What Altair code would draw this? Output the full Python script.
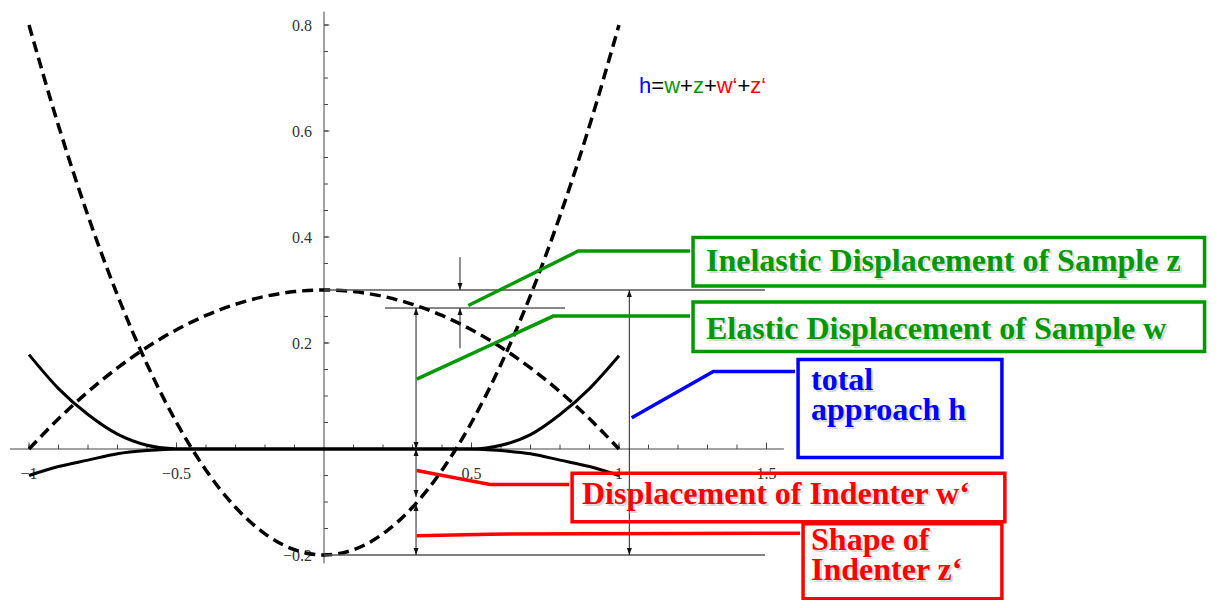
import altair as alt
import pandas as pd

# ---------------- curve data ----------------
xs = [-1.0, -0.9, -0.8, -0.7, -0.6, -0.5, -0.4, -0.3, -0.2, -0.1, 0.0,
      0.1, 0.2, 0.3, 0.4, 0.5, 0.6, 0.7, 0.8, 0.9, 1.0]
indenter_shape = [0.80, 0.61, 0.44, 0.29, 0.16, 0.05, -0.04, -0.11, -0.16, -0.19, -0.20,
                  -0.19, -0.16, -0.11, -0.04, 0.05, 0.16, 0.29, 0.44, 0.61, 0.80]
sample_shape = [0.0, 0.057, 0.108, 0.153, 0.192, 0.225, 0.252, 0.273, 0.288, 0.297, 0.300,
                0.297, 0.288, 0.273, 0.252, 0.225, 0.192, 0.153, 0.108, 0.057, 0.0]
upper_solid = [0.178, 0.114, 0.065, 0.028, 0.007, 0.0, 0.0, 0.0, 0.0, 0.0, 0.0,
               0.0, 0.0, 0.0, 0.0, 0.0, 0.007, 0.027, 0.065, 0.114, 0.176]
lower_solid = [-0.050, -0.033, -0.021, -0.009, -0.003, 0.0, 0.0, 0.0, 0.0, 0.0, 0.0,
               0.0, 0.0, 0.0, 0.0, 0.0, -0.003, -0.009, -0.021, -0.033, -0.050]

# ---------------- axes ----------------
x_ticks = [-1.0, -0.9, -0.8, -0.7, -0.6, -0.5, -0.4, -0.3, -0.2, -0.1,
           0.1, 0.2, 0.3, 0.4, 0.5, 0.6, 0.7, 0.8, 0.9, 1.0, 1.1, 1.2, 1.3, 1.4, 1.5]
x_major = [-1.0, -0.5, 0.5, 1.0, 1.5]
x_labels = ["\u22121", "\u22120.5", "0.5", "1", "1.5"]
y_ticks = [-0.2, -0.15, -0.1, -0.05, 0.05, 0.1, 0.15, 0.2, 0.25, 0.3, 0.35,
           0.4, 0.45, 0.5, 0.55, 0.6, 0.65, 0.7, 0.75, 0.8]
y_major = [-0.2, 0.2, 0.4, 0.6, 0.8]
y_labels = ["\u22120.2", "0.2", "0.4", "0.6", "0.8"]
x_axis_span = [-1.064, 1.559]
y_axis_span = [-0.216, 0.825]

# ---------------- annotations (data coordinates) ----------------
GREEN, BLUE, RED, BLACK = "#009a00", "#0000ff", "#ff0000", "#000000"

hline_y = [0.30, 0.266, -0.20]
hline_x0 = [0.0, 0.207, 0.0]
hline_x1 = [1.495, 0.817, 1.495]

arrow_x = [0.312, 0.312, 0.312, 1.035, 0.461, 0.461]
arrow_top = [0.266, 0.0, -0.1037, 0.30, 0.362, 0.266]
arrow_bottom = [0.0, -0.0907, -0.20, -0.20, 0.30, 0.190]
head_up_x = [0.312, 0.312, 0.312, 1.035, 0.461]
head_up_y = [0.266, 0.0, -0.1037, 0.30, 0.266]
head_down_x = [0.312, 0.312, 0.312, 1.035, 0.461]
head_down_y = [0.0, -0.0907, -0.20, -0.20, 0.30]

connectors = {
    "inelastic": ([0.4892, 0.8620, 1.2407], [0.2707, 0.3735, 0.3735], GREEN),
    "elastic": ([0.3142, 0.7773, 1.2407], [0.1318, 0.2508, 0.2508], GREEN),
    "total": ([1.0431, 1.3197, 1.5966], [0.0589, 0.1462, 0.1462], BLUE),
    "indenter_disp": ([0.3142, 0.5627, 0.8305], [-0.0407, -0.0669, -0.0669], RED),
    "indenter_shape": ([0.3142, 0.5627, 1.6136], [-0.1636, -0.1607, -0.1589], RED),
}

box_x0 = [1.251, 1.251, 1.607, 0.841, 1.624]
box_x1 = [2.985, 2.985, 2.298, 2.308, 2.298]
box_y0 = [0.399, 0.2776, 0.169, -0.0458, -0.1411]
box_y1 = [0.3075, 0.1841, -0.0159, -0.1374, -0.2825]
box_color = [GREEN, GREEN, BLUE, RED, RED]

label_text = ["Inelastic Displacement of Sample z", "Elastic Displacement of Sample w",
              "total", "approach h", "Displacement of Indenter w\u2018",
              "Shape of", "Indenter z\u2018"]
label_x = [1.295, 1.295, 1.651, 1.651, 0.8746, 1.651, 1.651]
label_y = [0.3355, 0.2084, 0.1112, 0.0551, -0.1037, -0.1897, -0.2480]
label_color = [GREEN, GREEN, BLUE, BLUE, RED, RED, RED]

formula_parts = ["h", "=", "w", "+", "z", "+", "w\u2018", "+", "z\u2018"]
formula_colors = [BLUE, BLACK, GREEN, BLACK, GREEN, BLACK, RED, BLACK, RED]
formula_x = 1.068
formula_y = 0.672

# ---------------- scales ----------------
XS = alt.Scale(domain=[-1.0712, 2.9966], nice=False, zero=False)
YS = alt.Scale(domain=[-0.2849, 0.8321], nice=False, zero=False)


def X(f):
    return alt.X(f, type="quantitative", scale=XS, axis=None)


def Y(f):
    return alt.Y(f, type="quantitative", scale=YS, axis=None)


AXC = "#444444"

# axis lines
axis_df = pd.DataFrame({"x0": [x_axis_span[0], 0.0], "x1": [x_axis_span[1], 0.0],
                        "y0": [0.0, y_axis_span[0]], "y1": [0.0, y_axis_span[1]]})
axis_lines = alt.Chart(axis_df).mark_rule(color=AXC, strokeWidth=1).encode(
    x=X("x0"), x2="x1", y=Y("y0"), y2="y1")

xt_df = pd.DataFrame({"x": x_ticks, "y": [0.0] * len(x_ticks)})
xt = alt.Chart(xt_df).mark_point(shape="M0,0L0,-2", size=20, filled=False, opacity=1,
                                 color=AXC, strokeWidth=1).encode(x=X("x"), y=Y("y"))
xM_df = pd.DataFrame({"x": x_major, "y": [0.0] * len(x_major), "t": x_labels})
xM = alt.Chart(xM_df).mark_point(shape="M0,0L0,-2", size=42, filled=False, opacity=1,
                                 color=AXC, strokeWidth=1).encode(x=X("x"), y=Y("y"))
xL = alt.Chart(xM_df).mark_text(font="Liberation Serif", fontSize=16, color="#333333",
                                align="center", baseline="alphabetic", dy=30).encode(
    x=X("x"), y=Y("y"), text="t:N")

yt_df = pd.DataFrame({"y": y_ticks, "x": [0.0] * len(y_ticks)})
yt = alt.Chart(yt_df).mark_point(shape="M0,0L2,0", size=16, filled=False, opacity=1,
                                 color=AXC, strokeWidth=1).encode(x=X("x"), y=Y("y"))
yM_df = pd.DataFrame({"y": y_major, "x": [0.0] * len(y_major), "t": y_labels})
yM = alt.Chart(yM_df).mark_point(shape="M0,0L2,0", size=30, filled=False, opacity=1,
                                 color=AXC, strokeWidth=1).encode(x=X("x"), y=Y("y"))
yL = alt.Chart(yM_df).mark_text(font="Liberation Serif", fontSize=16, color="#333333",
                                align="right", baseline="alphabetic", dx=-12, dy=6).encode(
    x=X("x"), y=Y("y"), text="t:N")

# curves
dash_df = pd.DataFrame({"x": xs * 2, "y": indenter_shape + sample_shape,
                        "c": ["indenter"] * len(xs) + ["sample"] * len(xs)})
solid_df = pd.DataFrame({"x": xs * 2, "y": upper_solid + lower_solid,
                         "c": ["upper"] * len(xs) + ["lower"] * len(xs)})
dashed = alt.Chart(dash_df).mark_line(color="black", strokeWidth=3.5, strokeDash=[11, 6],
                                      interpolate="monotone").encode(
    x=X("x"), y=Y("y"), detail="c:N")
solid = alt.Chart(solid_df).mark_line(color="black", strokeWidth=3,
                                      interpolate="monotone").encode(
    x=X("x"), y=Y("y"), detail="c:N")

# guide lines and arrows
h_df = pd.DataFrame({"x0": hline_x0, "x1": hline_x1, "y": hline_y,
                     "w": [1.6, 1.0, 1.6], "col": ["#555555", "#111111", "#555555"]})
hlines = alt.Chart(h_df).mark_rule().encode(
    x=X("x0"), x2="x1", y=Y("y"),
    strokeWidth=alt.StrokeWidth("w:Q", scale=None),
    color=alt.Color("col:N", scale=None))

a_df = pd.DataFrame({"x": arrow_x, "y0": arrow_top, "y1": arrow_bottom})
arrows = alt.Chart(a_df).mark_rule(color="#222222", strokeWidth=1).encode(
    x=X("x"), y=Y("y0"), y2="y1")
up_df = pd.DataFrame({"x": head_up_x, "y": head_up_y})
down_df = pd.DataFrame({"x": head_down_x, "y": head_down_y})
heads_up = alt.Chart(up_df).mark_point(shape="M0,0L-1,2.8L1,2.8Z", size=25, filled=True,
                                       opacity=1, color="#111111").encode(x=X("x"), y=Y("y"))
heads_down = alt.Chart(down_df).mark_point(shape="M0,0L-1,-2.8L1,-2.8Z", size=25, filled=True,
                                           opacity=1, color="#111111").encode(x=X("x"), y=Y("y"))

# connectors
rows = []
for name, (cx, cy, col) in connectors.items():
    for i, (a, b) in enumerate(zip(cx, cy)):
        rows.append({"id": name, "o": i, "x": a, "y": b, "col": col})
conn_df = pd.DataFrame(rows)
conns = alt.Chart(conn_df).mark_line(strokeWidth=3.5).encode(
    x=X("x"), y=Y("y"), detail="id:N", order="o:Q",
    color=alt.Color("col:N", scale=None))

# boxes
b_df = pd.DataFrame({"x0": box_x0, "x1": box_x1, "y0": box_y0, "y1": box_y1, "col": box_color})
boxes = alt.Chart(b_df).mark_rect(fillOpacity=0, strokeWidth=3.5).encode(
    x=X("x0"), x2="x1", y=Y("y0"), y2="y1",
    stroke=alt.Stroke("col:N", scale=None))

# labels
l_df = pd.DataFrame({"t": label_text, "x": label_x, "y": label_y, "col": label_color})
shadow = alt.Chart(l_df).mark_text(font="Liberation Serif", fontWeight="bold", fontSize=32,
                                   align="left", baseline="alphabetic", dx=2, dy=2,
                                   color="#aaaaaa", opacity=0.45).encode(
    x=X("x"), y=Y("y"), text="t:N")
labels = alt.Chart(l_df).mark_text(font="Liberation Serif", fontWeight="bold", fontSize=32,
                                   align="left", baseline="alphabetic").encode(
    x=X("x"), y=Y("y"), text="t:N", color=alt.Color("col:N", scale=None))

# coloured formula: one piece per layer, shifted by the Arial advance widths
FSIZE = 22
advance = {"h": 556, "=": 584, "w": 722, "+": 584, "z": 500, "\u2018": 222}
formula_layers = []
offset = 0.0
f_df = pd.DataFrame({"x": [formula_x], "y": [formula_y]})
for part, col in zip(formula_parts, formula_colors):
    formula_layers.append(
        alt.Chart(f_df).mark_text(font="Liberation Sans", fontSize=FSIZE, align="left",
                                  baseline="alphabetic", color=col, dx=offset,
                                  text=part).encode(x=X("x"), y=Y("y")))
    offset += sum(advance[ch] for ch in part) * FSIZE / 1000.0

chart = alt.layer(
    axis_lines, xt, xM, yt, yM, xL, yL,
    dashed, solid, hlines, arrows, heads_up, heads_down,
    conns, boxes, shadow, labels, *formula_layers
).properties(
    width=1200, height=592,
    autosize=alt.AutoSizeParams(type="none"),
    padding=0,
).configure_view(strokeWidth=0)

chart.save("out.html", embed_options={"renderer": "svg", "actions": False})
